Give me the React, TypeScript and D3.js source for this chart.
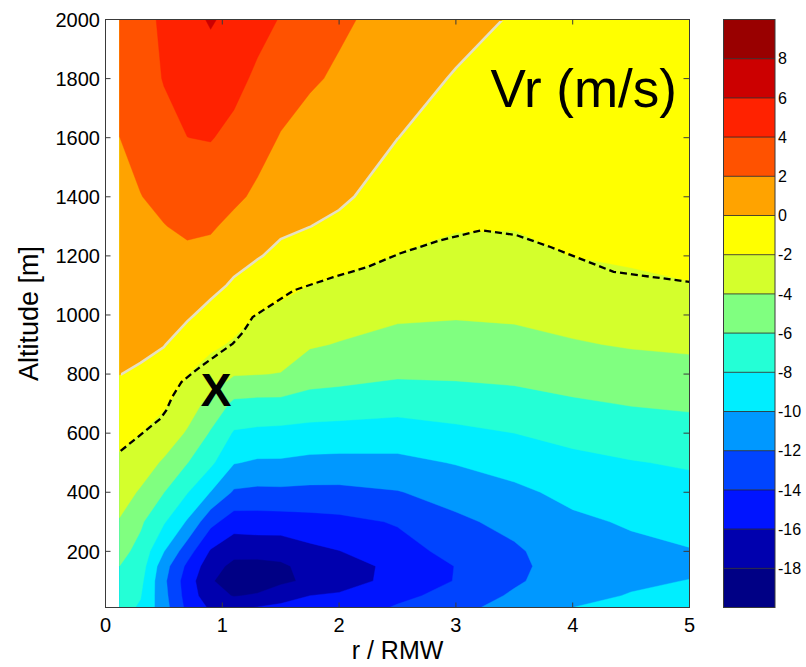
import React from "react";
import * as d3 from "d3";

// radial grid (r / RMW) and altitude grid (m)
const rGrid = [0.12, 0.3, 0.5, 0.7, 0.9, 1.1, 1.3, 1.5, 1.75, 2.0, 2.5, 3.0, 3.5, 4.0, 4.5, 5.0];
const zGrid = [10, 50, 100, 150, 200, 300, 400, 500, 600, 700, 800, 900, 1000, 1100, 1200, 1300, 1400, 1600, 1800, 2000];

// Vr (m/s), one row per altitude in zGrid, one column per radius in rGrid
const vrZ10 = [-7.4, -8.2, -11.2, -14.5, -16.3, -16.5, -15.9, -15.8, -15.6, -15.2, -13.8, -12.6, -11.2, -10.0, -9.6, -9.5];
const vrZ50 = [-7.0, -7.9, -11.4, -14.8, -17.3, -18.1, -17.8, -16.4, -16.0, -15.8, -14.5, -13.3, -11.7, -10.5, -9.9, -9.7];
const vrZ100 = [-6.5, -7.5, -11.6, -15.0, -17.8, -19.0, -19.0, -18.55, -17.5, -16.7, -15.5, -13.9, -12.3, -10.8, -10.3, -9.95];
const vrZ150 = [-6.0, -7.05, -11.2, -14.4, -17.2, -18.5, -18.6, -18.3, -17.4, -17.0, -15.4, -13.95, -12.5, -10.9, -10.5, -10.4];
const vrZ200 = [-5.35, -6.65, -9.95, -13.1, -16.2, -17.4, -17.3, -17.3, -16.5, -16.05, -14.7, -13.45, -12.3, -10.8, -10.45, -10.1];
const vrZ300 = [-4.13, -5.7, -7.8, -10.2, -13.4, -15.05, -14.95, -14.9, -14.7, -14.5, -13.85, -12.4, -11.4, -10.35, -9.8, -9.35];
const vrZ400 = [-3.2, -4.2, -5.97, -7.9, -10.05, -12.25, -12.45, -12.4, -12.5, -12.5, -12.1, -11.2, -10.4, -9.5, -8.95, -8.6];
const vrZ500 = [-2.3, -3.1, -4.25, -5.95, -7.6, -9.9, -10.25, -10.25, -10.5, -10.55, -10.5, -9.9, -9.25, -8.5, -8.1, -7.8];
const vrZ600 = [-1.5, -2.0, -2.9, -4.2, -6.2, -8.2, -8.4, -8.5, -8.7, -8.8, -8.9, -8.45, -8.0, -7.45, -7.05, -6.75];
const vrZ700 = [-0.7, -1.1, -1.7, -3.05, -4.6, -6.4, -6.55, -6.55, -6.8, -6.9, -7.25, -7.0, -6.7, -6.25, -5.9, -5.7];
const vrZ800 = [0.02, -0.17, -0.78, -1.95, -2.95, -3.85, -3.95, -4.05, -5.15, -5.35, -5.75, -5.7, -5.55, -5.15, -4.85, -4.6];
const vrZ900 = [0.27, 0.28, 0.07, -0.8, -1.6, -2.25, -3.0, -3.25, -3.8, -4.1, -4.7, -4.75, -4.55, -4.15, -3.85, -3.7];
const vrZ1000 = [0.52, 0.61, 0.54, 0.22, -0.52, -1.2, -2.05, -2.45, -2.9, -3.2, -3.7, -3.85, -3.75, -3.4, -3.05, -2.9];
const vrZ1100 = [0.76, 0.95, 1.01, 0.94, 0.47, -0.22, -0.92, -1.5, -2.02, -2.3, -2.9, -3.15, -3.1, -2.7, -2.3, -2.02];
const vrZ1200 = [1.01, 1.29, 1.48, 1.66, 1.4, 0.55, 0.13, -0.42, -1.0, -1.37, -2.05, -2.45, -2.45, -1.98, -1.8, -1.88];
const vrZ1300 = [1.26, 1.63, 1.95, 2.3, 2.23, 1.49, 0.89, 0.32, 0.02, -0.43, -1.5, -1.88, -1.93, -1.83, -1.72, -1.8];
const vrZ1400 = [1.5, 1.96, 2.41, 2.86, 2.85, 2.37, 1.66, 0.84, 0.48, 0.35, -1.0, -1.53, -1.67, -1.65, -1.6, -1.7];
const vrZ1600 = [1.99, 2.51, 3.33, 3.99, 4.09, 3.53, 2.7, 1.89, 1.39, 1.0, 0.02, -0.83, -1.17, -1.3, -1.36, -1.5];
const vrZ1800 = [2.6, 3.06, 4.1, 4.65, 5.0, 4.53, 3.68, 2.9, 2.2, 1.78, 0.72, -0.13, -0.66, -0.95, -1.08, -1.25];
const vrZ2000 = [3.2, 3.6, 4.2, 5.3, 6.2, 5.4, 4.6, 3.9, 2.8, 2.25, 1.4, 0.6, -0.15, -0.6, -0.8, -1.0];

const vrRows = [vrZ10, vrZ50, vrZ100, vrZ150, vrZ200, vrZ300, vrZ400, vrZ500, vrZ600, vrZ700,
  vrZ800, vrZ900, vrZ1000, vrZ1100, vrZ1200, vrZ1300, vrZ1400, vrZ1600, vrZ1800, vrZ2000];

// contour levels (lower bound of each band) and colours
const levels = [-20, -18, -16, -14, -12, -10, -8, -6, -4, -2, 0, 2, 4, 6, 8];
const levelTop = 10;
const bandColors = ["#000085", "#0000AE", "#0014FF", "#0044FF", "#0098FF", "#00EEFF", "#24FFD6", "#80FF80",
  "#D4FF2C", "#FFFF00", "#FFA300", "#FF5200", "#FF2200", "#CC0000", "#990000"];
const colorbarLabels = [8, 6, 4, 2, 0, -2, -4, -6, -8, -10, -12, -14, -16, -18];

// dashed line (r / RMW, altitude m)
const dashR = [0.13, 0.47, 0.52, 0.57, 0.65, 0.81, 1.09, 1.18, 1.26, 1.61, 1.95, 2.24, 2.52, 2.86, 3.22, 3.52, 3.81, 4.35, 5.0];
const dashZ = [540, 649, 677, 722, 773, 824, 903, 943, 993, 1083, 1128, 1162, 1208, 1252, 1287, 1270, 1230, 1146, 1112];

const xTicks = [0, 1, 2, 3, 4, 5];
const yTicks = [200, 400, 600, 800, 1000, 1200, 1400, 1600, 1800, 2000];

const FONT = "'Liberation Sans', Arial, Helvetica, sans-serif";

export default function App() {
  const W = 806, H = 667;
  const left = 105.5, right = 689.5, top = 19.5, bottom = 607.5;
  const x = d3.scaleLinear().domain([0, 5]).range([left, right]);
  const y = d3.scaleLinear().domain([10, 2000]).range([bottom, top]);

  const nx = rGrid.length, ny = zGrid.length;
  const ix = d3.scaleLinear().domain(d3.range(nx)).range(rGrid);
  const iy = d3.scaleLinear().domain(d3.range(ny)).range(zGrid);
  const flat: number[] = vrRows.flat();

  const toPath = (mp: any) =>
    mp.coordinates
      .map((poly: number[][][]) =>
        poly
          .map(
            (ring: number[][]) =>
              "M" +
              ring
                .map(([cx, cy]) => {
                  const gx = Math.max(0, Math.min(nx - 1, cx - 0.5));
                  const gy = Math.max(0, Math.min(ny - 1, cy - 0.5));
                  return `${x(ix(gx)).toFixed(2)},${y(iy(gy)).toFixed(2)}`;
                })
                .join("L") +
              "Z"
          )
          .join("")
      )
      .join("");

  const gen = d3.contours().size([nx, ny]);
  const bands = levels.map((lv, i) => ({ d: toPath(gen.contour(flat, lv)), color: bandColors[i] }));
  const zeroLine = toPath(gen.contour(flat, 0));

  const dashLine = d3
    .line<number>()
    .x((_, i) => x(dashR[i]))
    .y((_, i) => y(dashZ[i]))(dashR.map((_, i) => i)) as string;

  const cbLeft = 723.5, cbRight = 775;
  const cb = d3.scaleLinear().domain([-20, levelTop]).range([bottom, top]);

  const axisColor = "#3a3a3a";
  const clipX0 = x(rGrid[0]) + 1.6, clipX1 = x(rGrid[nx - 1]) - 1.6;
  const clipY0 = y(zGrid[ny - 1]) + 1.6, clipY1 = y(zGrid[0]) - 1.6;

  return (
    <svg width={W} height={H} style={{ position: "absolute", left: 0, top: 0, background: "#fff" }}>
      <defs>
        <clipPath id="inner">
          <rect x={clipX0} y={clipY0} width={clipX1 - clipX0} height={clipY1 - clipY0} />
        </clipPath>
      </defs>
      <rect x={0} y={0} width={W} height={H} fill="#fff" />
      {bands.map((b, i) => (
        <path key={i} d={b.d} fill={b.color} stroke={b.color} strokeWidth={0.4} fillRule="evenodd" />
      ))}
      <path d={zeroLine} fill="none" stroke="#E6E0C2" strokeWidth={2.6} clipPath="url(#inner)" />
      <path d={dashLine} fill="none" stroke="#000" strokeWidth={2.3} strokeDasharray="7,4" />

      {/* axes box */}
      <rect x={left} y={top} width={right - left} height={bottom - top} fill="none" stroke={axisColor} strokeWidth={1} />
      {xTicks.map((t) => (
        <g key={"x" + t}>
          <line x1={x(t)} x2={x(t)} y1={bottom} y2={bottom - 5} stroke={axisColor} />
          <line x1={x(t)} x2={x(t)} y1={top} y2={top + 5} stroke={axisColor} />
          <text x={x(t)} y={632} textAnchor="middle" fontSize={20} fontFamily={FONT} fill="#000">
            {t}
          </text>
        </g>
      ))}
      {yTicks.map((t) => (
        <g key={"y" + t}>
          <line x1={left} x2={left + 5} y1={y(t)} y2={y(t)} stroke={axisColor} />
          <line x1={right} x2={right - 6} y1={y(t)} y2={y(t)} stroke={axisColor} />
          <text x={100} y={y(t)} dy="0.36em" textAnchor="end" fontSize={20} fontFamily={FONT} fill="#000">
            {t}
          </text>
        </g>
      ))}
      <text x={(left + right) / 2} y={659} textAnchor="middle" fontSize={25} fontFamily={FONT} fill="#000">
        r / RMW
      </text>
      <text
        transform={`translate(38,${(top + bottom) / 2}) rotate(-90)`}
        textAnchor="middle"
        fontSize={27}
        fontFamily={FONT}
        fill="#000"
      >
        Altitude [m]
      </text>
      <text x={677} y={107} textAnchor="end" fontSize={53} fontFamily={FONT} fill="#000">
        Vr (m/s)
      </text>
      <text x={216} y={406} textAnchor="middle" fontSize={46} fontWeight="bold" fontFamily={FONT} fill="#000">
        X
      </text>

      {/* colorbar */}
      {levels.map((lv, i) => (
        <rect
          key={"cb" + lv}
          x={cbLeft}
          y={cb(i === levels.length - 1 ? levelTop : levels[i + 1])}
          width={cbRight - cbLeft}
          height={cb(lv) - cb(i === levels.length - 1 ? levelTop : levels[i + 1])}
          fill={bandColors[i]}
        />
      ))}
      {colorbarLabels.map((lv) => (
        <g key={"cbl" + lv}>
          <line x1={cbLeft} x2={cbRight} y1={cb(lv)} y2={cb(lv)} stroke="#222" strokeWidth={0.8} />
          <text x={778} y={cb(lv)} dy="0.36em" fontSize={16} fontFamily={FONT} fill="#000">
            {lv}
          </text>
        </g>
      ))}
      <rect x={cbLeft} y={top} width={cbRight - cbLeft} height={bottom - top} fill="none" stroke={axisColor} strokeWidth={1} />
    </svg>
  );
}
